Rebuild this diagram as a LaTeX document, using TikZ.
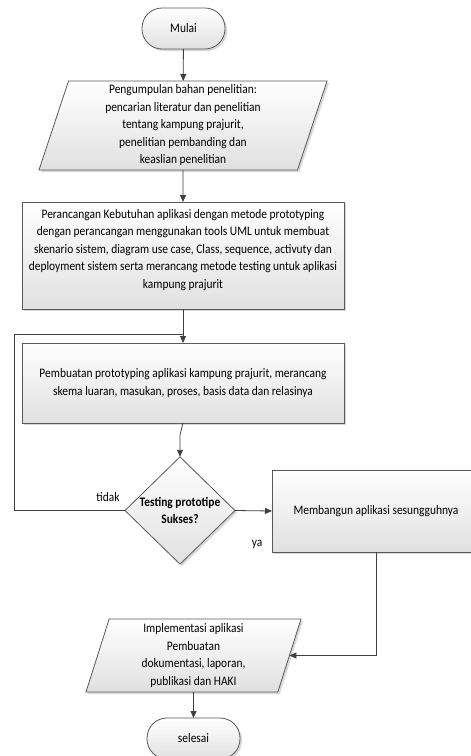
\documentclass[tikz,border=0pt]{standalone}
\usepackage{fontspec}
\setmainfont{Carlito}[FakeStretch=0.88]
\usetikzlibrary{shapes.geometric,shadows,arrows.meta}
\begin{document}
\begin{tikzpicture}[x=1pt,y=-1pt,
  base/.style={draw=black!65, line width=0.8pt, top color=white, bottom color=black!12,
    drop shadow={shadow xshift=2pt,shadow yshift=-2pt,fill=black!30,opacity=0.5},
    font=\fontsize{13}{17.5}\selectfont, align=center, inner sep=0pt, outer sep=0pt},
  term/.style={base, rectangle, rounded corners=20pt, minimum height=41pt},
  proc/.style={base, rectangle},
  io/.style={base, trapezium, trapezium left angle=70, trapezium right angle=110, trapezium stretches body},
  dec/.style={base, diamond, minimum width=110pt, minimum height=107pt, font=\fontsize{13}{17.5}\selectfont\bfseries},
  lbl/.style={font=\fontsize{13}{15}\selectfont, inner sep=0pt},
  arr/.style={draw=black!75, line width=0.8pt, -{Triangle[length=7pt,width=6pt]}},
  ln/.style={draw=black!75, line width=0.8pt}
]
\useasboundingbox (0,0) rectangle (471,756);
\clip (0,0) rectangle (471,756);
\fill[white] (0,0) rectangle (471,756);

\node[term, minimum width=83pt] (mulai) at (183.5,28.5) {Mulai};
\node[io, minimum width=288pt, minimum height=89pt] (p1) at (183,125.5)
  {Pengumpulan bahan penelitian:\\pencarian literatur dan penelitian\\tentang kampung prajurit,\\penelitian pembanding dan\\keaslian penelitian};
\node[proc, minimum width=322pt, minimum height=107pt, text depth=0pt] (b2) at (183,255.5)
  {Perancangan Kebutuhan aplikasi dengan metode prototyping\\dengan perancangan menggunakan tools UML untuk membuat\\skenario sistem, diagram use case, Class, sequence, activuty dan\\deployment sistem serta merancang metode testing untuk aplikasi\\kampung prajurit\\[-4pt]\mbox{}};
\node[proc, minimum width=322pt, minimum height=80pt] (b3) at (183,383)
  {Pembuatan prototyping aplikasi kampung prajurit, merancang\\skema luaran, masukan, proses, basis data dan relasinya};
\node[dec] (dia) at (180,510.5) {Testing prototipe\\Sukses?};
\node[proc, minimum width=208pt, minimum height=82pt] (b4) at (376,511) {Membangun aplikasi sesungguhnya};
\node[io, minimum width=215pt, minimum height=73pt] (p2) at (193.5,655.5)
  {Implementasi aplikasi\\Pembuatan\\dokumentasi, laporan,\\publikasi dan HAKI};
\node[term, minimum width=93pt] (selesai) at (193.5,738.5) {selesai};

\node[lbl] (tidak) at (108,497) {tidak};
\node[lbl] (ya) at (257,544) {ya};

\coordinate (join) at (183,334);
\coordinate (loopc) at (14,334);
\coordinate (bend) at (180,435);

\draw[arr] (mulai) -- (p1);
\draw[arr] (p1) -- (b2);
\draw[arr] (b2) -- (b3);
\draw[arr] (b3.south) -- (bend) -- (dia.north);
\draw[ln] (dia.west) -| (loopc) -- (join);
\draw[arr] (dia.east) -- (b4.west);
\draw[arr] (b4.south) |- (p2.east);
\draw[arr] (p2) -- (selesai);
\end{tikzpicture}
\end{document}
